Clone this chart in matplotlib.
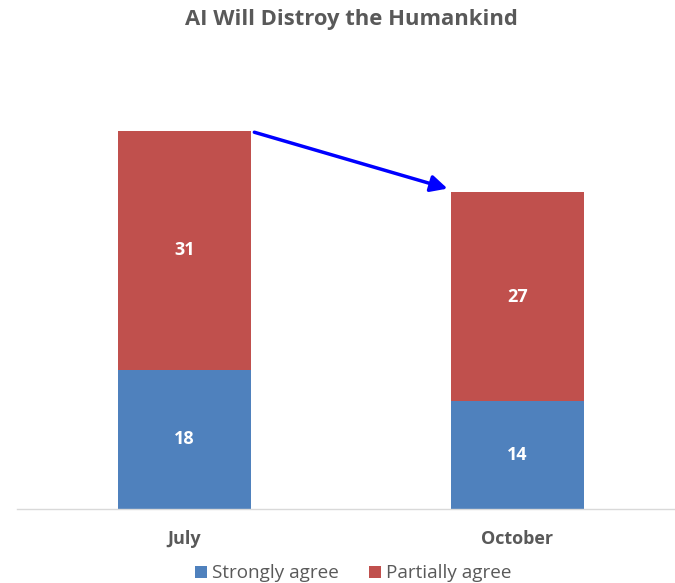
import numpy as np
import matplotlib.pyplot as plt

plt.rcParams['font.family'] = ['Open Sans', 'DejaVu Sans']

months = ["July", "October"]
strongly = np.array([18, 14])
partially = np.array([31, 27])

blue = '#4F81BD'
red = '#C0504D'
grey = '#595959'
w = 0.4

fig = plt.figure(figsize=(6.75, 5.83), dpi=100)
ax = fig.add_axes([0.025, 0.127, 0.975, 0.768])

x = np.arange(len(months))
b1 = ax.bar(x, strongly, width=w, color=blue, label="Strongly agree")
b2 = ax.bar(x, partially, width=w, bottom=strongly, color=red, label="Partially agree")

# labels inside the bars
for i in range(len(months)):
    ax.text(x[i], strongly[i] / 2, str(strongly[i]), ha='center', va='center',
            color='white', fontsize=13, fontweight='bold')
    ax.text(x[i], strongly[i] + partially[i] / 2, str(partially[i]), ha='center',
            va='center', color='white', fontsize=13, fontweight='bold')

# arrow from July top to October top
total = strongly + partially
ax.annotate('', xy=(x[1] - w / 2 - 0.01, total[1] + 0.5),
            xytext=(x[0] + w / 2 + 0.01, total[0] - 0.2),
            arrowprops=dict(arrowstyle='-|>,head_length=1.0,head_width=0.5',
                            color='#0000FF', lw=2.5, shrinkA=0, shrinkB=0))

ax.set_xlim(-0.503, 1.473)
ax.set_ylim(0, 58)
ax.set_xticks(x)
ax.set_xticklabels(months, fontsize=13, fontweight='bold', color=grey)
ax.tick_params(axis='x', length=0, pad=15)
ax.set_yticks([])
for s in ['top', 'right', 'left']:
    ax.spines[s].set_visible(False)
ax.spines['bottom'].set_color('#D9D9D9')
ax.spines['bottom'].set_linewidth(1)

fig.suptitle("AI Will Distroy the Humankind", fontsize=15.8, fontweight='bold',
             color=grey, x=0.52, y=0.985)

fig.legend(handles=[b1, b2], loc='lower center', bbox_to_anchor=(0.524, -0.028),
           ncol=2, frameon=False, fontsize=13.6, handlelength=0.6, handleheight=0.6,
           handletextpad=0.3, columnspacing=1.6, labelcolor=grey)

plt.savefig('out.png', dpi=100)
